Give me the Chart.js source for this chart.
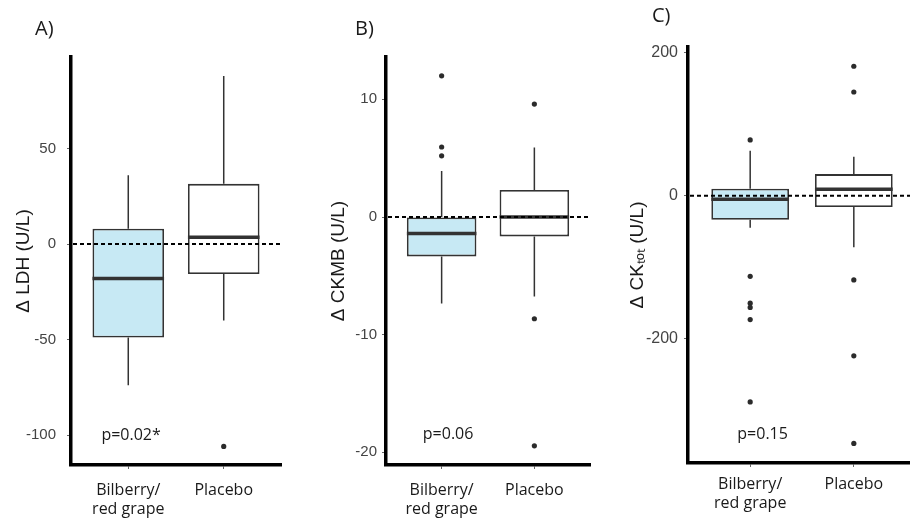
<!DOCTYPE html>
<html>
<head>
<meta charset="utf-8">
<script src="https://cdn.jsdelivr.net/npm/chart.js@4.4.0/dist/chart.umd.min.js"></script>
<style>
  html, body { margin: 0; padding: 0; background: #fff; width: 910px; height: 518px; overflow: hidden; }
  canvas { position: absolute; top: 0; }
</style>
</head>
<body>
<canvas id="panelA" width="300" height="518" style="left:0px"></canvas>
<canvas id="panelB" width="310" height="518" style="left:300px"></canvas>
<canvas id="panelC" width="310" height="518" style="left:610px"></canvas>
<script>
// groups on the x axis (1 = Bilberry/red grape, 2 = Placebo)
var groups = [["Bilberry/", "red grape"], "Placebo"];
var boxColors = ["#c7e9f4", "#ffffff"];

// A) delta LDH
var ldhTicks = [-100, -50, 0, 50];
var ldhLow = [-74, -40];
var ldhQ1 = [-49, -15.7];
var ldhMedian = [-18, 3.5];
var ldhQ3 = [8, 31.5];
var ldhHigh = [36, 88];
var ldhOutliers = [[], [-106]];

// B) delta CKMB
var ckmbTicks = [-20, -10, 0, 10];
var ckmbLow = [-7.35, -6.75];
var ckmbQ1 = [-3.35, -1.65];
var ckmbMedian = [-1.4, 0];
var ckmbQ3 = [0, 2.3];
var ckmbHigh = [3.9, 5.9];
var ckmbOutliers = [[12.0, 5.95, 5.2], [9.6, -8.65, -19.45]];

// C) delta CK total
var cktotTicks = [-200, 0, 200];
var cktotLow = [-44.5, -72];
var cktotQ1 = [-33.5, -15.8];
var cktotMedian = [-5, 9.3];
var cktotQ3 = [9.8, 30.3];
var cktotHigh = [62.8, 54.4];
var cktotOutliers = [[78, -112.5, -150, -156, -173, -288], [181, 145, -117.6, -223.7, -346]];

var pValues = ["p=0.02*", "p=0.06", "p=0.15"];

var tickFont = "'Liberation Sans', Arial, sans-serif";
var textFont = "'Open Sans', 'Noto Sans', sans-serif";

// whiskers behind the boxes, medians / zero line / labels on top
var boxExtras = {
  id: "boxExtras",
  beforeDatasetsDraw: function (chart, args, opts) {
    var ctx = chart.ctx;
    var y = chart.scales.y;
    var bars = chart.getDatasetMeta(0).data;
    ctx.save();
    ctx.strokeStyle = "#333";
    ctx.lineWidth = 1.5;
    bars.forEach(function (bar, i) {
      ctx.beginPath();
      ctx.moveTo(bar.x, y.getPixelForValue(opts.high[i]));
      ctx.lineTo(bar.x, y.getPixelForValue(opts.q3[i]));
      ctx.moveTo(bar.x, y.getPixelForValue(opts.q1[i]));
      ctx.lineTo(bar.x, y.getPixelForValue(opts.low[i]));
      ctx.stroke();
    });
    ctx.restore();
  },
  afterDatasetsDraw: function (chart, args, opts) {
    var ctx = chart.ctx;
    var x = chart.scales.x;
    var y = chart.scales.y;
    var area = chart.chartArea;
    var bars = chart.getDatasetMeta(0).data;
    ctx.save();
    // medians
    ctx.strokeStyle = "#333";
    ctx.lineWidth = 3.5;
    bars.forEach(function (bar, i) {
      var py = y.getPixelForValue(opts.median[i]);
      ctx.beginPath();
      ctx.moveTo(bar.x - bar.width / 2, py);
      ctx.lineTo(bar.x + bar.width / 2, py);
      ctx.stroke();
    });
    // dashed reference at zero
    var zy = y.getPixelForValue(0);
    ctx.strokeStyle = "#000";
    ctx.lineWidth = 2;
    ctx.setLineDash([4, 3]);
    ctx.beginPath();
    ctx.moveTo(area.left + 2, zy);
    ctx.lineTo(area.right, zy);
    ctx.stroke();
    ctx.setLineDash([]);
    // p value
    ctx.fillStyle = "#1a1a1a";
    ctx.font = "16px " + textFont;
    ctx.textAlign = "center";
    ctx.textBaseline = "middle";
    ctx.fillText(opts.pText, x.getPixelForValue(opts.pX), y.getPixelForValue(opts.pY));
    // panel letter
    ctx.font = "20px " + textFont;
    ctx.textAlign = "left";
    ctx.textBaseline = "alphabetic";
    ctx.fillText(opts.letter, opts.letterX, opts.letterY);
    ctx.restore();
  }
};

function makePanel(id, p) {
  var outlierPoints = [];
  p.outliers.forEach(function (list, i) {
    list.forEach(function (v) { outlierPoints.push({ x: i + 1, y: v }); });
  });
  var boxes = p.q1.map(function (q, i) { return { x: i + 1, y: [q, p.q3[i]] }; });

  return new Chart(document.getElementById(id), {
    type: "bar",
    data: {
      datasets: [{
        data: boxes,
        backgroundColor: boxColors,
        borderColor: "#333",
        borderWidth: 1.8,
        borderSkipped: false,
        categoryPercentage: 1,
        barPercentage: 0.75
      }, {
        type: "scatter",
        data: outlierPoints,
        pointRadius: 2.6,
        pointBackgroundColor: "#2b2b2b",
        pointBorderWidth: 0
      }]
    },
    options: {
      responsive: false,
      animation: false,
      layout: { padding: { top: p.top, right: p.right, left: 0, bottom: 0 } },
      plugins: {
        legend: { display: false },
        tooltip: { enabled: false },
        boxExtras: {
          low: p.low, q1: p.q1, median: p.median, q3: p.q3, high: p.high,
          pText: p.pText, pX: p.pX, pY: p.pY,
          letter: p.letter, letterX: p.letterX, letterY: p.letterY
        }
      },
      scales: {
        x: {
          type: "linear",
          min: 0.4,
          max: 2.6,
          offset: false,
          afterBuildTicks: function (scale) {
            scale.ticks = groups.map(function (g, i) { return { value: i + 1 }; });
          },
          afterFit: function (scale) { scale.height = p.xHeight; },
          border: { display: true, color: "#000", width: 3.5 },
          grid: { offset: false, drawOnChartArea: false, drawTicks: true, tickLength: 4, color: "#666" },
          ticks: {
            padding: p.xPad,
            color: "#1a1a1a",
            font: { family: textFont, size: 16 },
            callback: function (v) { return groups[v - 1]; }
          }
        },
        y: {
          min: p.min,
          max: p.max,
          afterBuildTicks: function (scale) {
            scale.ticks = p.ticks.map(function (v) { return { value: v }; });
          },
          afterFit: function (scale) { scale.width = p.yWidth; },
          border: { display: true, color: "#000", width: 3.5 },
          grid: { drawOnChartArea: false, drawTicks: true, tickLength: 4, color: "#666" },
          ticks: {
            padding: p.yPad,
            color: "#444",
            font: { family: tickFont, size: p.tickSize }
          },
          title: {
            display: true,
            text: p.title,
            color: "#1a1a1a",
            font: { family: tickFont, size: 19 },
            padding: { top: p.titlePad, bottom: 0 }
          }
        }
      }
    },
    plugins: [boxExtras]
  });
}

makePanel("panelA", {
  low: ldhLow, q1: ldhQ1, median: ldhMedian, q3: ldhQ3, high: ldhHigh, outliers: ldhOutliers,
  ticks: ldhTicks, min: -115.7, max: 97.9, title: "\u0394 LDH (U/L)",
  top: 57, right: 19, yWidth: 71, xHeight: 53, xPad: 12, yPad: 11, tickSize: 15, titlePad: 12,
  pText: pValues[0], pX: 1.03, pY: -100, letter: "A)", letterX: 35, letterY: 35
});

makePanel("panelB", {
  low: ckmbLow, q1: ckmbQ1, median: ckmbMedian, q3: ckmbQ3, high: ckmbHigh, outliers: ckmbOutliers,
  ticks: ckmbTicks, min: -21.08, max: 13.6, title: "\u0394 CKMB (U/L)",
  top: 57, right: 20, yWidth: 86, xHeight: 53, xPad: 12, yPad: 5, tickSize: 15, titlePad: 27,
  pText: pValues[1], pX: 1.07, pY: -18.5, letter: "B)", letterX: 55, letterY: 35
});

makePanel("panelC", {
  low: cktotLow, q1: cktotQ1, median: cktotMedian, q3: cktotQ3, high: cktotHigh, outliers: cktotOutliers,
  ticks: cktotTicks, min: -373.4, max: 207.9, title: "\u0394 CK\u209C\u2092\u209C (U/L)",
  top: 47, right: 3, yWidth: 78, xHeight: 55, xPad: 8, yPad: 6, tickSize: 16, titlePad: 16,
  pText: pValues[2], pX: 1.12, pY: -334, letter: "C)", letterX: 42, letterY: 22
});
</script>
</body>
</html>
